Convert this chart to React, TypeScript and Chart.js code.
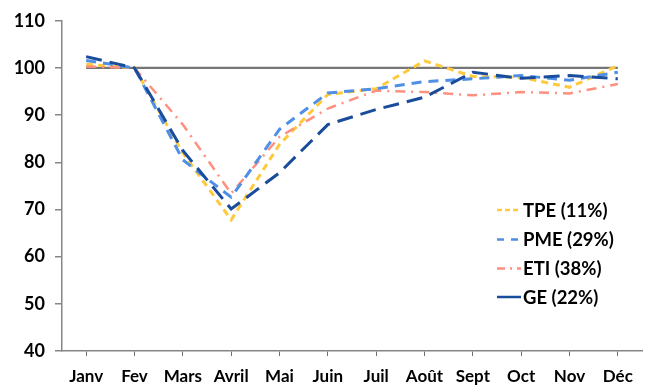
import React, { useEffect, useRef } from "react";
import { Chart, registerables } from "chart.js";

Chart.register(...registerables);

const months = ["Janv", "Fev", "Mars", "Avril", "Mai", "Juin", "Juil", "Août", "Sept", "Oct", "Nov", "Déc"];
const tpe = [100.8, 100, 82, 67.8, 83.8, 94.4, 95.6, 101.5, 98.2, 98.0, 95.9, 100.5];
const pme = [101.6, 100, 80.5, 72.6, 87.0, 94.7, 95.6, 97.1, 97.7, 98.4, 97.4, 99.1];
const eti = [100.3, 100, 88.0, 73.4, 85.4, 91.4, 95.2, 94.9, 94.2, 94.9, 94.6, 96.6];
const ge = [102.4, 100, 82.5, 70.1, 77.8, 88.0, 91.2, 93.8, 99.1, 97.8, 98.4, 97.7];
const reference = [100, 100, 100, 100, 100, 100, 100, 100, 100, 100, 100, 100];
const legendLabels = ["TPE (11%)", "PME (29%)", "ETI (38%)", "GE (22%)"];

const FONT = "Lato, 'Noto Sans', sans-serif";

const legendPlugin = {
  id: "insideLegend",
  afterDraw(chart: any) {
    const ctx = chart.ctx;
    const items = [
      { label: legendLabels[0], color: "#FFC93C", dash: [5, 3] },
      { label: legendLabels[1], color: "#4F8FE6", dash: [7, 7] },
      { label: legendLabels[2], color: "#FF8F7E", dash: [8, 5, 2, 5] },
      { label: legendLabels[3], color: "#1A4C9C", dash: [] },
    ];
    const x0 = 497;
    const ys = [210, 239.5, 268.5, 297];
    ctx.save();
    items.forEach((it, i) => {
      const y = ys[i];
      ctx.beginPath();
      ctx.setLineDash(it.dash);
      ctx.strokeStyle = it.color;
      ctx.lineWidth = 2.5;
      ctx.moveTo(x0, y);
      ctx.lineTo(x0 + 24, y);
      ctx.stroke();
      ctx.setLineDash([]);
      ctx.fillStyle = "#000";
      ctx.font = `bold 18.5px ${FONT}`;
      ctx.textBaseline = "middle";
      ctx.textAlign = "left";
      ctx.fillText(it.label, x0 + 26, y + 1);
    });
    ctx.restore();
  },
};

export default function App() {
  const canvasRef = useRef<HTMLCanvasElement | null>(null);

  useEffect(() => {
    document.body.style.margin = "0";
    const canvas = canvasRef.current;
    if (!canvas) return;
    const chart = new Chart(canvas, {
      type: "line",
      data: {
        labels: months,
        datasets: [
          { label: "GE (22%)", data: ge, borderColor: "#1A4C9C", borderWidth: 3, borderDash: [16, 8], pointRadius: 0, order: 0, tension: 0 },
          { label: "TPE (11%)", data: tpe, borderColor: "#FFC93C", borderWidth: 3, borderDash: [7, 5], pointRadius: 0, order: 3, tension: 0 },
          { label: "PME (29%)", data: pme, borderColor: "#4F8FE6", borderWidth: 3, borderDash: [10, 7], pointRadius: 0, order: 1, tension: 0 },
          { label: "ETI (38%)", data: eti, borderColor: "#FF8F7E", borderWidth: 2.5, borderDash: [10, 6, 2, 6], pointRadius: 0, order: 2, tension: 0 },
          { label: "ref", data: reference, borderColor: "#767676", borderWidth: 2.2, pointRadius: 0, order: 10, tension: 0 },
        ],
      },
      options: {
        responsive: false,
        animation: false,
        layout: { padding: { top: 18, right: 8, left: 0, bottom: 0 } },
        plugins: { legend: { display: false }, tooltip: { enabled: false }, title: { display: false } },
        scales: {
          x: {
            offset: true,
            grid: { display: true, drawOnChartArea: false, offset: false, tickLength: 5, color: "#6e6e6e", lineWidth: 1 },
            border: { display: true, color: "#868686", width: 1.5 },
            ticks: { color: "#000", font: { family: FONT, size: 17, weight: "bold" }, padding: 10, maxRotation: 0, autoSkip: false },
            afterFit: (s: any) => { s.height = 34; },
          },
          y: {
            min: 40,
            max: 110,
            ticks: { stepSize: 10, color: "#000", font: { family: FONT, size: 18, weight: "bold" }, padding: 10 },
            grid: { display: true, drawOnChartArea: false, tickLength: 7, color: "#868686", lineWidth: 1.5 },
            border: { display: true, color: "#868686", width: 1.5 },
            afterFit: (s: any) => { s.width = 62; },
          },
        },
      },
      plugins: [legendPlugin],
    });
    return () => chart.destroy();
  }, []);

  return (
    <div style={{ width: 650, height: 385, background: "#fff" }}>
      <canvas ref={canvasRef} width={650} height={385} />
    </div>
  );
}
